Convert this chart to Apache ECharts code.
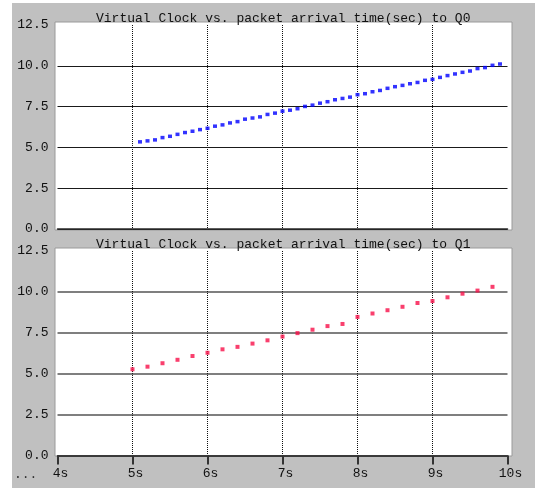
<!DOCTYPE html>
<html>
<head>
<meta charset="utf-8">
<script src="https://cdn.jsdelivr.net/npm/echarts@6/dist/echarts.min.js"></script>
<style>
  html, body { margin: 0; padding: 0; background: #ffffff; }
  #chart { width: 535px; height: 489px; }
</style>
</head>
<body>
<div id="chart"></div>
<script>
// Packet arrival times (s) and virtual clock values for queue Q0
var q0Times = [5.1, 5.2, 5.3, 5.4, 5.5, 5.6, 5.7, 5.8, 5.9, 6.0,
               6.1, 6.2, 6.3, 6.4, 6.5, 6.6, 6.7, 6.8, 6.9, 7.0,
               7.1, 7.2, 7.3, 7.4, 7.5, 7.6, 7.7, 7.8, 7.9, 8.0,
               8.1, 8.2, 8.3, 8.4, 8.5, 8.6, 8.7, 8.8, 8.9, 9.0,
               9.1, 9.2, 9.3, 9.4, 9.5, 9.6, 9.7, 9.8, 9.9];
var q0Clock = [5.34, 5.40, 5.46, 5.60, 5.68, 5.80, 5.91, 5.99, 6.09, 6.17,
               6.30, 6.38, 6.50, 6.58, 6.73, 6.80, 6.87, 7.02, 7.10, 7.22,
               7.28, 7.37, 7.51, 7.59, 7.71, 7.80, 7.92, 8.00, 8.08, 8.23,
               8.29, 8.41, 8.49, 8.62, 8.72, 8.80, 8.90, 8.98, 9.11, 9.17,
               9.29, 9.40, 9.50, 9.60, 9.68, 9.83, 9.89, 10.03, 10.11];

// Packet arrival times (s) and virtual clock values for queue Q1
var q1Times = [5.0, 5.2, 5.4, 5.6, 5.8, 6.0, 6.2, 6.4, 6.6, 6.8,
               7.0, 7.2, 7.4, 7.6, 7.8, 8.0, 8.2, 8.4, 8.6, 8.8,
               9.0, 9.2, 9.4, 9.6, 9.8];
var q1Clock = [5.27, 5.43, 5.64, 5.85, 6.08, 6.28, 6.49, 6.64, 6.84, 7.04,
               7.27, 7.48, 7.69, 7.91, 8.04, 8.47, 8.68, 8.88, 9.09, 9.32,
               9.44, 9.67, 9.89, 10.08, 10.31];

// Axis ticks
var timeTicks = [4, 5, 6, 7, 8, 9, 10];
var clockTicks = [0, 2.5, 5, 7.5, 10, 12.5];

var titles = ['Virtual Clock vs. packet arrival time(sec) to Q0',
              'Virtual Clock vs. packet arrival time(sec) to Q1'];

var MONO = '"Liberation Mono", "DejaVu Sans Mono", monospace';

function pairs(xs, ys) {
  return xs.map(function (x, i) { return [x, ys[i]]; });
}

var chart = echarts.init(document.getElementById('chart'), null, { renderer: 'canvas' });

var grids = [
  { left: 57.5, width: 450, top: 25, height: 204 },
  { left: 57.5, width: 450, top: 251, height: 204.5 }
];

function xAxisFor(idx, showLabels) {
  return {
    type: 'value',
    gridIndex: idx,
    min: timeTicks[0],
    max: timeTicks[timeTicks.length - 1],
    interval: 1,
    axisLine: { show: true, onZero: false, lineStyle: { color: '#2a2a2a', width: 1.5 } },
    axisTick: { show: showLabels, length: 9, lineStyle: { color: '#333', width: 2 } },
    axisLabel: {
      show: showLabels,
      margin: 12,
      fontFamily: MONO,
      fontSize: 13,
      color: '#111',
      padding: [0, 0, 0, 6],
      formatter: function (v) { return v + 's'; }
    },
    splitLine: {
      show: true,
      showMinLine: false,
      showMaxLine: false,
      lineStyle: { color: '#111', type: [1, 1], width: 1 }
    }
  };
}

function yAxisFor(idx, lineColor, lineWidth) {
  return {
    type: 'value',
    gridIndex: idx,
    min: clockTicks[0],
    max: clockTicks[clockTicks.length - 1],
    interval: 2.5,
    axisLine: { show: false },
    axisTick: { show: false },
    axisLabel: {
      margin: 9,
      fontFamily: MONO,
      fontSize: 13,
      color: '#111',
      formatter: function (v) { return v.toFixed(1); }
    },
    splitLine: {
      show: true,
      showMaxLine: false,
      lineStyle: { color: lineColor, width: lineWidth }
    }
  };
}

var option = {
  backgroundColor: '#ffffff',
  animation: false,
  graphic: [
    // grey panel
    { type: 'rect', shape: { x: 12, y: 3, width: 523, height: 485 }, style: { fill: '#c0c0c0' }, z: -10 },
    // plot backgrounds
    { type: 'rect', shape: { x: 55, y: 22, width: 457, height: 208 }, style: { fill: '#ffffff', stroke: '#9a9a9a', lineWidth: 1 }, z: -5 },
    { type: 'rect', shape: { x: 55, y: 248, width: 457, height: 208 }, style: { fill: '#ffffff', stroke: '#9a9a9a', lineWidth: 1 }, z: -5 },
    { type: 'text', x: 14, y: 468, style: { text: '...', font: '13px ' + MONO, fill: '#333' } }
  ],
  title: [
    { text: titles[0], left: 91, top: 7,
      textStyle: { fontFamily: MONO, fontSize: 13, fontWeight: 'normal', color: '#111' } },
    { text: titles[1], left: 91, top: 233,
      textStyle: { fontFamily: MONO, fontSize: 13, fontWeight: 'normal', color: '#111' } }
  ],
  grid: grids,
  xAxis: [xAxisFor(0, false), xAxisFor(1, true)],
  yAxis: [yAxisFor(0, '#1a1a1a', 1.2), yAxisFor(1, '#555555', 1.6)],
  series: [
    {
      type: 'scatter', xAxisIndex: 0, yAxisIndex: 0,
      symbol: 'rect', symbolSize: [4, 3.5],
      itemStyle: { color: '#0000ff' },
      data: pairs(q0Times, q0Clock)
    },
    {
      type: 'scatter', xAxisIndex: 1, yAxisIndex: 1,
      symbol: 'rect', symbolSize: [4, 4],
      itemStyle: { color: '#f70f48' },
      data: pairs(q1Times, q1Clock)
    }
  ]
};

chart.setOption(option);
</script>
</body>
</html>
